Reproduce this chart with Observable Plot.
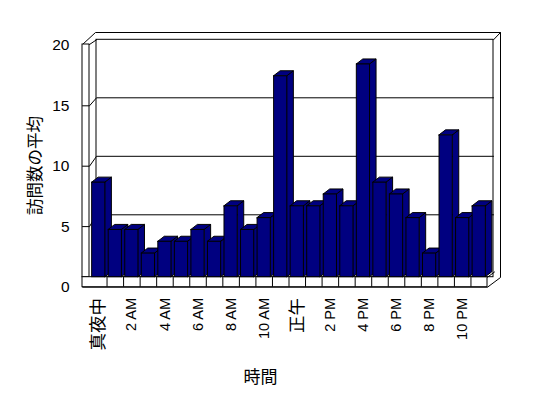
<!DOCTYPE html>
<html><head><meta charset="utf-8">
<script src="https://cdn.jsdelivr.net/npm/d3@7"></script>
<script src="https://cdn.jsdelivr.net/npm/@observablehq/plot@0.6"></script>
<style>html,body{margin:0;padding:0;background:#fff;}</style>
</head><body><div id="chart"></div>
<script>
// ---- data ----
const hours = ["真夜中","1 AM","2 AM","3 AM","4 AM","5 AM","6 AM","7 AM","8 AM","9 AM","10 AM","11 AM",
               "正午","1 PM","2 PM","3 PM","4 PM","5 PM","6 PM","7 PM","8 PM","9 PM","10 PM","11 PM"];
const visits = [8,4,4,2,3,3,4,3,6,4,5,17,6,6,7,6,18,8,7,5,2,12,5,6];
const yTicks = [0,5,10,15,20];
const gridValues = [5,10,15];
const yTitle = "訪問数の平均";
const xTitle = "時間";

// ---- layout helpers (pixel geometry of the pseudo-3D frame) ----
const X0 = 90, X1 = 487, Y0 = 276.7, UNIT = 11.82;
const Y1 = Y0 - UNIT * 20;
const slotPx = (X1 - X0) / hours.length;
const px = p => (p - X0) / slotPx;     // pixel x -> x scale units
const py = p => (Y0 - p) / UNIT;       // pixel y -> y scale units
const front = v => py(286.5 - 12.08 * v); // front plane projection
const back = v => py(272.8 - 11.7 * v);   // back wall projection
const DX = 6.5 / slotPx, DY = 5 / UNIT;   // bar depth
const NAVY = "#000080";

const bars = visits.map((v, i) => ({i, v}));
const sides = bars.flatMap(d => [
  {i: d.i, x: d.i + 0.9, y1: 0, y2: d.v},
  {i: d.i, x: d.i + 0.9 + DX, y1: DY, y2: d.v + DY}]);
const tops = bars.flatMap(d => [
  {i: d.i, y: d.v, x1: d.i + 0.1, x2: d.i + 0.9},
  {i: d.i, y: d.v + DY, x1: d.i + 0.1 + DX, x2: d.i + 0.9 + DX}]);

const silhouette = [[82,44],[95,32],[500,32],[500,277],[487,286.7],[82,286.7],[82,44]]
  .map(([a,b]) => ({x: px(a), y: py(b)}));
const slants = [
  [[89,44],[96,39.3]],
  [[493,39.3],[500,32]],
  [[487,276.7],[494,271.5]]
].flatMap((seg, k) => seg.map(([a,b]) => ({k, x: px(a), y: py(b)})));
const grid = gridValues.flatMap(v => [
  {v, x: px(82), y: front(v)}, {v, x: px(89), y: front(v)},
  {v, x: px(96), y: back(v)}, {v, x: px(493), y: back(v)}]);

const xLabels = hours.map((h, i) => ({h, i})).filter(d => d.i % 2 === 0);
const isCJK = s => /[\u3000-\u9fff]/.test(s);

const chart = Plot.plot({
  width: 548, height: 398,
  x: {domain: [0, 24], range: [X0, X1], axis: null},
  y: {domain: [0, 20], range: [Y0, Y1], axis: null},
  style: {background: "#fff", fontFamily: "'Liberation Sans', 'Noto Sans CJK JP', sans-serif", color: "black"},
  marks: [
    Plot.line(silhouette, {x: "x", y: "y", fill: "white", stroke: "black", strokeWidth: 1, strokeLinejoin: "miter"}),
    Plot.rect([0], {x1: px(96), x2: px(493), y1: 0, y2: py(39.3), fill: "white", stroke: "black", strokeWidth: 1}),
    Plot.rect([0], {x1: px(82), x2: px(89), y1: 0, y2: py(44), fill: "white", stroke: "black", strokeWidth: 1}),
    Plot.line(slants, {x: "x", y: "y", z: "k", stroke: "black", strokeWidth: 1}),
    Plot.line(grid, {x: "x", y: "y", z: "v", stroke: "black", strokeWidth: 1, strokeLinejoin: "miter"}),
    Plot.rect([0], {x1: px(82), x2: px(487), y1: py(286.7), y2: 0, fill: "white", stroke: "black", strokeWidth: 1}),
    Plot.ruleX(d3.range(1, hours.length), {x: d => d, y1: py(286.7), y2: 0, stroke: "black", strokeWidth: 1}),
    Plot.areaY(sides, {x: "x", y1: "y1", y2: "y2", z: "i", fill: NAVY, stroke: "black", strokeWidth: 1}),
    Plot.areaX(tops, {y: "y", x1: "x1", x2: "x2", z: "i", fill: NAVY, stroke: "black", strokeWidth: 1}),
    Plot.rect(bars, {x1: d => d.i + 0.1, x2: d => d.i + 0.9, y1: 0, y2: "v", fill: NAVY, stroke: "black", strokeWidth: 1}),
    Plot.text(yTicks, {x: px(69), y: d => front(d), text: d => String(d), textAnchor: "end", fontSize: 15.5, fill: "black"}),
    Plot.text(xLabels, {x: d => d.i + 0.5, y: py(297.5), text: "h", rotate: -90, textAnchor: "end",
      fontSize: d => isCJK(d.h) ? 17.5 : 14.5, fill: "black"}),
    Plot.text([yTitle], {x: px(35), y: py(165), text: d => d, rotate: -90, fontSize: 16.5, fill: "black",
      fontFamily: "'Noto Sans CJK JP', sans-serif"}),
    Plot.text([xTitle], {x: px(260), y: py(377), text: d => d, fontSize: 17, fill: "black",
      fontFamily: "'Noto Sans CJK JP', sans-serif"})
  ]
});
document.getElementById("chart").appendChild(chart);
</script>
</body></html>
